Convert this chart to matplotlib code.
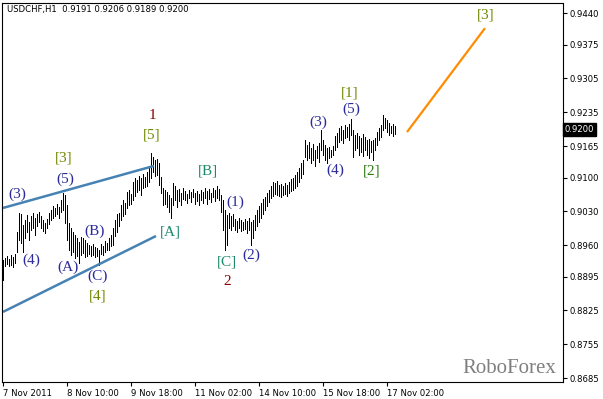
import numpy as np
import matplotlib
matplotlib.use("Agg")
import matplotlib.pyplot as plt

# USDCHF H1 bars, high / low in pips (0.xxxx * 10000)
highs = [8929, 8933, 8938, 8931, 8940, 8936, 8942, 8987, 9027, 9024,
         9002, 9012, 9022, 9008, 9020, 9027, 9016, 9024, 9029, 9020,
         9012, 9006, 9014, 9027, 9033, 9041, 9037, 9045, 9039, 9053,
         9068, 9064, 9043, 9006, 8996, 8987, 8981, 8975, 8967, 8977,
         8975, 8971, 8964, 8960, 8958, 8962, 8956, 8954, 8950, 8962,
         8958, 8969, 8964, 8975, 8981, 8996, 9012, 9024, 9027, 9043,
         9053, 9047, 9070, 9074, 9066, 9091, 9099, 9095, 9103, 9099,
         9107, 9101, 9111, 9120, 9151, 9142, 9136, 9138, 9130, 9101,
         9078, 9074, 9070, 9064, 9058, 9089, 9082, 9074, 9076, 9068,
         9078, 9072, 9066, 9074, 9070, 9076, 9068, 9072, 9066, 9074,
         9070, 9078, 9072, 9076, 9068, 9078, 9074, 9082, 9076, 9064,
         9053, 9033, 9022, 9027, 9020, 9024, 9014, 9010, 9016, 9012,
         9008, 9014, 9010, 9016, 9008, 9012, 9022, 9033, 9041, 9047,
         9055, 9060, 9068, 9074, 9082, 9091, 9089, 9093, 9084, 9086,
         9082, 9089, 9084, 9091, 9097, 9099, 9105, 9111, 9120, 9130,
         9136, 9177, 9167, 9173, 9161, 9169, 9157, 9165, 9171, 9198,
         9177, 9167, 9161, 9163, 9157, 9165, 9186, 9192, 9202, 9206,
         9198, 9208, 9204, 9210, 9221, 9198, 9188, 9192, 9186, 9182,
         9190, 9184, 9177, 9180, 9175, 9177, 9182, 9194, 9202, 9208,
         9229, 9223, 9219, 9213, 9206, 9210, 9206]
lows = [8888, 8917, 8921, 8917, 8919, 8915, 8923, 8946, 8971, 8964,
        8946, 8975, 8987, 8971, 8991, 8995, 8981, 9000, 9008, 8995,
        8989, 8985, 8995, 9004, 9012, 9016, 9020, 9024, 9016, 9029,
        9033, 9006, 8971, 8950, 8940, 8946, 8933, 8938, 8923, 8940,
        8944, 8936, 8938, 8942, 8938, 8940, 8936, 8938, 8919, 8942,
        8940, 8946, 8950, 8950, 8958, 8960, 8979, 8987, 9000, 9012,
        9020, 9024, 9037, 9043, 9045, 9053, 9062, 9070, 9074, 9064,
        9078, 9080, 9082, 9091, 9099, 9111, 9103, 9105, 9084, 9068,
        9043, 9045, 9039, 9029, 9016, 9043, 9053, 9039, 9051, 9043,
        9055, 9053, 9047, 9057, 9049, 9060, 9045, 9051, 9043, 9053,
        9047, 9057, 9045, 9055, 9049, 9060, 9051, 9057, 9053, 9029,
        8991, 8950, 8960, 8995, 8991, 9000, 8991, 8987, 8995, 8989,
        8991, 8993, 8985, 8991, 8960, 8975, 8991, 9000, 9008, 9016,
        9024, 9033, 9041, 9049, 9057, 9062, 9066, 9064, 9062, 9060,
        9064, 9066, 9062, 9068, 9072, 9074, 9078, 9082, 9091, 9099,
        9107, 9142, 9136, 9140, 9130, 9136, 9124, 9140, 9132, 9157,
        9146, 9136, 9130, 9140, 9142, 9146, 9157, 9163, 9173, 9177,
        9171, 9182, 9184, 9177, 9188, 9142, 9157, 9161, 9146, 9153,
        9144, 9157, 9146, 9140, 9153, 9136, 9157, 9167, 9177, 9184,
        9198, 9202, 9194, 9188, 9192, 9186, 9189]

yticks = [0.9440, 0.9375, 0.9305, 0.9235, 0.9165, 0.9100, 0.9030,
          0.8960, 0.8895, 0.8825, 0.8755, 0.8685]
xtick_pos = [0, 32, 64, 96, 128, 160, 192]
xtick_labels = ['7 Nov 2011', '8 Nov 10:00', '9 Nov 18:00', '11 Nov 02:00',
                '14 Nov 10:00', '15 Nov 18:00', '17 Nov 02:00']

# wave marks: text, bar index, price, colour
marks = [
    ('1', 74.5, 0.9229, '#8b0000'), ('[5]', 74.5, 0.9188, '#6f8a00'),
    ('[3]', 30.5, 0.9140, '#6f8a00'), ('(5)', 31, 0.9097, '#2a2a9a'),
    ('(3)', 7, 0.9066, '#2a2a9a'), ('(4)', 14, 0.8929, '#2a2a9a'),
    ('(A)', 32.5, 0.8915, '#2a2a9a'), ('(B)', 46, 0.8989, '#2a2a9a'),
    ('(C)', 47.5, 0.8896, '#2a2a9a'), ('[4]', 47.5, 0.8855, '#6f8a00'),
    ('[A]', 83.5, 0.8987, '#1a8a6a'), ('[B]', 102.5, 0.9113, '#1a8a6a'),
    ('(1)', 116, 0.9049, '#2a2a9a'), ('[C]', 112, 0.8925, '#1a8a6a'),
    ('2', 112, 0.8884, '#8b0000'), ('(2)', 124, 0.8940, '#2a2a9a'),
    ('(3)', 157.5, 0.9215, '#2a2a9a'), ('(4)', 166, 0.9115, '#2a2a9a'),
    ('(5)', 174, 0.9242, '#2a2a9a'), ('[1]', 173.5, 0.9275, '#6f8a00'),
    ('[2]', 184.5, 0.9113, '#2a7a10'), ('[3]', 241.5, 0.9436, '#6f8a00'),
]

# trend lines (index, price)
upper_line = ([0, 75.5], [0.9037, 0.9124])
lower_line = ([0, 76.5], [0.8822, 0.8979])
forecast = ([202, 241], [0.9194, 0.9409])

hi = np.array(highs) / 10000
lo = np.array(lows) / 10000
x = np.arange(len(hi))

fig = plt.figure(figsize=(6.03, 3.99), dpi=100)
ax = fig.add_axes([2 / 603, 17 / 399, 561 / 603, 379 / 399])

ax.vlines(x, lo, hi, color='black', lw=0.72, antialiased=False)
ax.plot(*upper_line, color='#4682b4', lw=1.8, solid_capstyle='butt')
ax.plot(*lower_line, color='#4682b4', lw=1.8, solid_capstyle='butt')
ax.plot(*forecast, color='#ff8c00', lw=1.6, solid_capstyle='butt')

for txt, xi, yi, col in marks:
    ax.text(xi, yi, txt, color=col, fontsize=11, family='Liberation Serif',
            ha='center', va='center')

ax.text(276.5, 0.8696, 'RoboForex', color='#7f7f7f', fontsize=15,
        family='Liberation Serif', ha='right', va='baseline')
ax.text(0.009, 0.982, 'USDCHF,H1  0.9191 0.9206 0.9189 0.9200',
        transform=ax.transAxes, fontsize=6.1, ha='left', va='center')

ax.set_xlim(-0.5, 280)
ax.set_ylim(0.8677, 0.9461)

ax.yaxis.tick_right()
ax.set_yticks(yticks)
ax.set_yticklabels(['%.4f' % v for v in yticks], fontsize=6.1)
ax.set_xticks(xtick_pos)
ax.set_xticklabels(xtick_labels, fontsize=6.1)
for lbl in ax.get_xticklabels():
    lbl.set_horizontalalignment('left')
ax.tick_params(axis='both', direction='out', length=3, width=0.8, pad=2)

for sp in ax.spines.values():
    sp.set_linewidth(0.8)

ax.text(1.003, 0.9200, '0.9200', transform=ax.get_yaxis_transform(),
        fontsize=6.1, color='white', ha='left', va='center',
        bbox=dict(boxstyle='square,pad=0.25', fc='black', ec='black'))

fig.savefig('out.png', dpi=100)
